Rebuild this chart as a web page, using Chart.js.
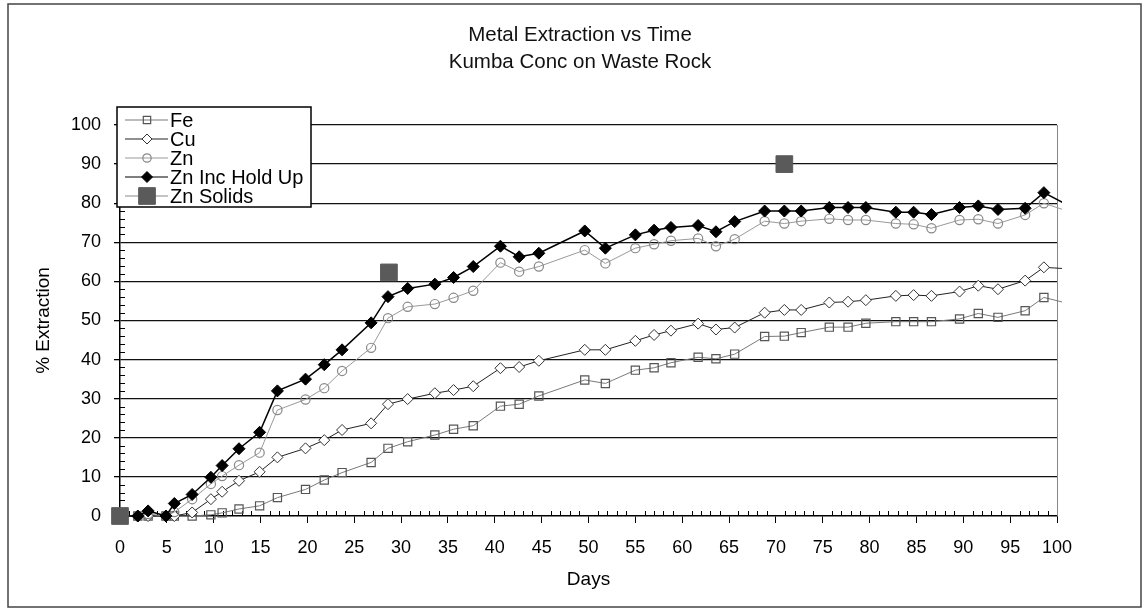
<!DOCTYPE html>
<html>
<head>
<meta charset="utf-8">
<title>Metal Extraction vs Time</title>
<script src="https://cdn.jsdelivr.net/npm/chart.js@4.4.1/dist/chart.umd.min.js"></script>
<style>
    html, body { margin: 0; padding: 0; background: #fff; }
    #wrap { width: 1147px; height: 615px; }
</style>
</head>
<body>
<div id="wrap"><canvas id="chart" width="1147" height="615"></canvas></div>
<script>
// Sample days (shared by the four leach series)
const days = [0, 1.9, 3.0, 4.9, 5.8, 7.7, 9.7, 10.9, 12.7, 14.9, 16.8, 19.8, 21.8, 23.7, 26.8, 28.6,
    30.7, 33.6, 35.6, 37.7, 40.6, 42.6, 44.7, 49.6, 51.8, 55.0, 57.0, 58.8, 61.7, 63.6, 65.6, 68.8,
    70.9, 72.7, 75.7, 77.7, 79.6, 82.8, 84.7, 86.6, 89.6, 91.6, 93.7, 96.6, 98.6, 100.6];

const fe = [0, 0, 0, 0, 0, 0, 0.3, 0.8, 1.8, 2.6, 4.7, 6.8, 9.2, 11.1, 13.7, 17.3,
    19.0, 20.7, 22.2, 23.1, 28.1, 28.6, 30.7, 34.8, 33.9, 37.3, 37.9, 39.2, 40.6, 40.2, 41.4, 45.9,
    46.0, 46.9, 48.3, 48.3, 49.3, 49.7, 49.7, 49.7, 50.4, 51.8, 50.8, 52.5, 55.9, 54.7];

const cu = [0, 0, 0, 0, 0, 0.9, 4.3, 6.2, 9.0, 11.3, 15.0, 17.3, 19.4, 22.0, 23.7, 28.6,
    29.9, 31.4, 32.2, 33.2, 37.8, 38.1, 39.7, 42.5, 42.5, 44.8, 46.3, 47.4, 49.2, 47.7, 48.2, 52.0,
    52.7, 52.7, 54.6, 54.8, 55.2, 56.3, 56.5, 56.3, 57.4, 58.9, 58.0, 60.2, 63.6, 63.3];

const zn = [0, 0, 0.5, 0, 1.0, 4.3, 8.2, 10.2, 13.0, 16.2, 27.1, 29.8, 32.7, 37.1, 43.0, 50.6,
    53.5, 54.2, 55.8, 57.6, 64.8, 62.5, 63.8, 68.0, 64.6, 68.5, 69.5, 70.4, 71.0, 69.0, 70.8, 75.4,
    74.8, 75.4, 76.0, 75.7, 75.7, 74.8, 74.6, 73.6, 75.7, 75.9, 74.8, 77.0, 80.0, 78.4];

const znHoldUp = [0, 0, 1.3, 0, 3.2, 5.5, 9.9, 12.9, 17.2, 21.4, 32.0, 35.0, 38.7, 42.5, 49.4, 56.1,
    58.2, 59.3, 61.0, 63.8, 69.0, 66.3, 67.2, 72.9, 68.5, 71.9, 73.1, 73.8, 74.3, 72.7, 75.3, 78.0,
    78.0, 78.0, 78.9, 78.9, 78.9, 77.7, 77.7, 77.1, 78.9, 79.3, 78.4, 78.7, 82.7, 80.2];

// Solids assays
const solidsDays = [0, 28.7, 70.9];
const znSolids = [0, 62.3, 90.0];

const titleLines = ['Metal Extraction vs Time', 'Kumba Conc on Waste Rock'];

const FONT = "'Liberation Sans', Arial, sans-serif";
Chart.defaults.font.family = FONT;
Chart.defaults.color = '#000';

const toPoints = (xs, ys) => xs.map((x, i) => ({ x: x, y: ys[i] }));
// markers past the last axis value are not shown, the line just runs off the edge
const hideOver = r => ctx => (ctx.raw && ctx.raw.x > 100 ? 0 : r);

// White card, outer frame and the two line title
const framePlugin = {
    id: 'frame',
    beforeDraw(chart) {
        const ctx = chart.ctx;
        ctx.save();
        ctx.fillStyle = '#fff';
        ctx.fillRect(0, 0, chart.width, chart.height);
        ctx.strokeStyle = '#444';
        ctx.lineWidth = 1.5;
        ctx.strokeRect(8, 4, 1133, 603);
        ctx.fillStyle = '#111';
        ctx.font = '20.5px ' + FONT;
        ctx.textAlign = 'center';
        ctx.textBaseline = 'middle';
        titleLines.forEach((t, i) => ctx.fillText(t, 580, 35 + i * 27));
        ctx.restore();
    }
};

// Excel style minor ticks (inside the plot) and the grey right edge
const minorTicksPlugin = {
    id: 'minorTicks',
    beforeDatasetsDraw(chart) {
        const { ctx, chartArea: a, scales: { x, y } } = chart;
        ctx.save();
        ctx.strokeStyle = '#000';
        ctx.lineWidth = 1;
        ctx.beginPath();
        for (let d = 1; d < 100; d++) {
            if (d % 5 === 0) continue;
            const px = Math.round(x.getPixelForValue(d)) + 0.5;
            ctx.moveTo(px, a.bottom);
            ctx.lineTo(px, a.bottom - 5);
        }
        for (let v = 2; v < 100; v += 2) {
            if (v % 10 === 0) continue;
            const py = Math.round(y.getPixelForValue(v)) + 0.5;
            ctx.moveTo(a.left, py);
            ctx.lineTo(a.left + 5, py);
        }
        ctx.stroke();
        ctx.strokeStyle = '#888';
        ctx.beginPath();
        ctx.moveTo(a.right + 0.5, a.top);
        ctx.lineTo(a.right + 0.5, a.bottom);
        ctx.stroke();
        ctx.restore();
    }
};

// Boxed legend in the top-left corner, line + marker like the spreadsheet one
const legendPlugin = {
    id: 'boxLegend',
    afterDraw(chart) {
        const ctx = chart.ctx;
        const sets = chart.data.datasets;
        ctx.save();
        ctx.fillStyle = '#fff';
        ctx.strokeStyle = '#000';
        ctx.lineWidth = 1.5;
        ctx.fillRect(117, 107, 194, 100);
        ctx.strokeRect(117, 107, 194, 100);
        ctx.font = '20px ' + FONT;
        ctx.textBaseline = 'middle';
        ctx.textAlign = 'left';
        sets.forEach((ds, i) => {
            const yy = 120 + i * 19;
            ctx.strokeStyle = ds.borderColor;
            ctx.lineWidth = 1.2;
            ctx.beginPath();
            ctx.moveTo(125, yy);
            ctx.lineTo(168, yy);
            ctx.stroke();
            ctx.fillStyle = ds.pointBackgroundColor;
            ctx.strokeStyle = ds.pointBorderColor;
            ctx.lineWidth = ds.pointBorderWidth;
            Chart.helpers.drawPoint(ctx, {
                pointStyle: ds.pointStyle,
                radius: ds.legendRadius,
                borderWidth: ds.pointBorderWidth,
                rotation: 0
            }, 147, yy);
            ctx.fillStyle = '#000';
            ctx.fillText(ds.label, 170, yy + 1);
        });
        ctx.restore();
    }
};

const clipSides = { left: false, top: false, right: 5, bottom: false };

new Chart(document.getElementById('chart'), {
    type: 'line',
    data: {
        datasets: [
            {
                label: 'Fe',
                data: toPoints(days, fe),
                borderColor: '#7a7a7a',
                borderWidth: 1,
                pointStyle: 'rect',
                pointRadius: hideOver(5.8),
                legendRadius: 5.2,
                pointBackgroundColor: 'rgba(255,255,255,0)',
                pointBorderColor: '#555',
                pointBorderWidth: 1.2,
                tension: 0,
                clip: clipSides,
                order: 5
            },
            {
                label: 'Cu',
                data: toPoints(days, cu),
                borderColor: '#222',
                borderWidth: 1,
                pointStyle: 'rectRot',
                pointRadius: hideOver(5.5),
                legendRadius: 5,
                pointBackgroundColor: '#fff',
                pointBorderColor: '#333',
                pointBorderWidth: 1,
                tension: 0,
                clip: clipSides,
                order: 4
            },
            {
                label: 'Zn',
                data: toPoints(days, zn),
                borderColor: '#9a9a9a',
                borderWidth: 1,
                pointStyle: 'circle',
                pointRadius: hideOver(4.6),
                legendRadius: 4.2,
                pointBackgroundColor: 'rgba(255,255,255,0)',
                pointBorderColor: '#888',
                pointBorderWidth: 1.2,
                tension: 0,
                clip: clipSides,
                order: 3
            },
            {
                label: 'Zn Inc Hold Up',
                data: toPoints(days, znHoldUp),
                borderColor: '#000',
                borderWidth: 1.5,
                pointStyle: 'rectRot',
                pointRadius: hideOver(6),
                legendRadius: 5.5,
                pointBackgroundColor: '#000',
                pointBorderColor: '#000',
                pointBorderWidth: 1,
                tension: 0,
                clip: clipSides,
                order: 2
            },
            {
                label: 'Zn Solids',
                data: toPoints(solidsDays, znSolids),
                showLine: false,
                borderColor: '#8a8a8a',
                pointStyle: 'rect',
                pointRadius: 11.8,
                legendRadius: 11.8,
                pointBackgroundColor: '#5a5a5a',
                pointBorderColor: '#5a5a5a',
                pointBorderWidth: 1,
                clip: false,
                order: 1
            }
        ]
    },
    options: {
        responsive: false,
        animation: false,
        events: [],
        layout: { padding: { left: 8, top: 125, right: 90, bottom: 0 } },
        plugins: {
            legend: { display: false },
            title: { display: false },
            tooltip: { enabled: false }
        },
        scales: {
            x: {
                type: 'linear',
                min: 0,
                max: 100,
                afterFit: s => { s.height = 99; },
                ticks: { stepSize: 5, autoSkip: false, maxRotation: 0, padding: 14, font: { size: 18 }, color: '#000' },
                grid: { drawOnChartArea: false, drawTicks: true, tickLength: 7, tickColor: '#000', tickWidth: 1 },
                border: { color: '#000', width: 1.5 },
                title: { display: true, text: 'Days', font: { size: 19 }, color: '#000', padding: { top: 0, bottom: 24 } }
            },
            y: {
                min: 0,
                max: 100,
                afterFit: s => { s.width = 112; },
                ticks: { stepSize: 10, padding: 13, font: { size: 18 }, color: '#000' },
                grid: {
                    color: ctx => (ctx.tick && ctx.tick.value === 0 ? 'rgba(0,0,0,0)' : '#111'),
                    lineWidth: 1.3,
                    drawTicks: true,
                    tickLength: 6,
                    tickColor: '#000'
                },
                border: { color: '#000', width: 1.5 },
                title: { display: true, text: '% Extraction', font: { size: 19 }, color: '#000', padding: { top: 24, bottom: 0 } }
            }
        }
    },
    plugins: [framePlugin, minorTicksPlugin, legendPlugin]
});
</script>
</body>
</html>
